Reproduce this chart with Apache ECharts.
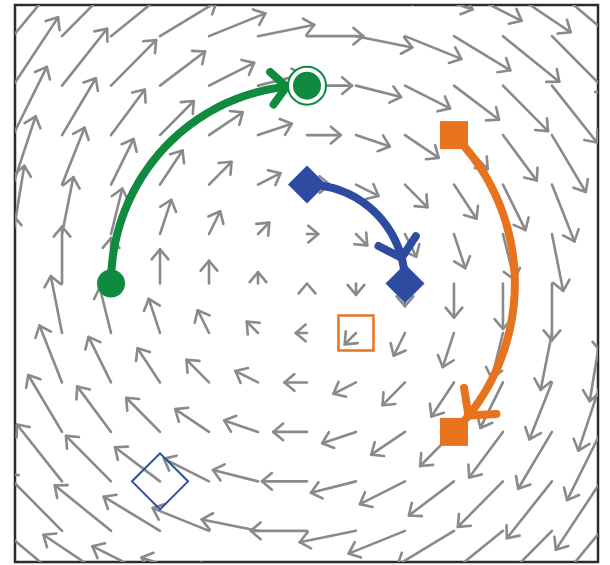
<!DOCTYPE html>
<html>
<head>
<meta charset="utf-8">
<script src="https://cdn.jsdelivr.net/npm/echarts@6/dist/echarts.min.js"></script>
<style>
  html, body { margin: 0; padding: 0; background: #ffffff; }
  #chart { width: 610px; height: 565px; }
</style>
</head>
<body>
<div id="chart"></div>
<script>
// Sample positions of the flow field (grid units)
const gridX = [-6, -5, -4, -3, -2, -1, 0, 1, 2, 3, 4, 5, 6];
const gridY = [-6, -5, -4, -3, -2, -1, 0, 1, 2, 3, 4, 5, 6];
// Horizontal component of the flow, one value per row (gridY order)
const uByRow = [-1.38, -1.15, -0.92, -0.69, -0.46, -0.23, 0, 0.23, 0.46, 0.69, 0.92, 1.15, 1.38];
// Vertical component of the flow, one value per column (gridX order)
const vByCol = [1.38, 1.15, 0.92, 0.69, 0.46, 0.23, 0, -0.23, -0.46, -0.69, -0.92, -1.15, -1.38];

// Trajectories: clockwise arcs about the origin
const trajColors = ['#108a3e', '#2d4ba0', '#e8731f'];
const trajStart = [[-4, 0], [0, 2], [3, 3]];
const trajEnd = [[0, 4], [2, 0], [3, -3]];
const trajHeadDeg = [96, 15, -39];
const trajHeadLen = [22, 26, 28];
const startSymbols = ['circle', 'diamond', 'rect'];
const startSizes = [28, 38, 28];
const endSymbols = ['circle', 'diamond', 'rect'];
const endSizes = [28, 39, 28];

// Hollow reference markers
const openSquarePts = [[1, -1]];
const openDiamondPts = [[-3, -4]];

const ARROW_GRAY = '#8a8a8a';

const fieldData = [];
gridY.forEach((gy, j) => {
  gridX.forEach((gx, i) => {
    fieldData.push([gx, gy, uByRow[j], vByCol[i]]);
  });
});

function chevron(tip, ux, uy, len, halfAngle) {
  const bx = -ux, by = -uy;
  const c = Math.cos(halfAngle), s = Math.sin(halfAngle);
  const w1 = [tip[0] + len * (bx * c - by * s), tip[1] + len * (bx * s + by * c)];
  const w2 = [tip[0] + len * (bx * c + by * s), tip[1] + len * (-bx * s + by * c)];
  return [w1, tip, w2];
}

function renderFieldArrow(params, api) {
  const x = api.value(0), y = api.value(1), u = api.value(2), v = api.value(3);
  const p0 = api.coord([x, y]);
  const p1 = api.coord([x + u, y + v]);
  const dx = p1[0] - p0[0], dy = p1[1] - p0[1];
  const len = Math.hypot(dx, dy);
  let ux = 0, uy = -1;
  if (len > 1e-6) { ux = dx / len; uy = dy / len; }
  const style = { stroke: ARROW_GRAY, lineWidth: 2.6, fill: null, lineCap: 'round', lineJoin: 'round' };
  const children = [];
  if (len > 0.5) {
    children.push({ type: 'line', shape: { x1: p0[0], y1: p0[1], x2: p1[0], y2: p1[1] }, style: style });
  }
  children.push({ type: 'polyline', shape: { points: chevron(p1, ux, uy, 13, 40 * Math.PI / 180) }, style: style });
  return { type: 'group', children: children };
}

function renderTrajectory(params, api) {
  const idx = api.value(0);
  const s = trajStart[idx], e = trajEnd[idx];
  const r = Math.hypot(s[0], s[1]);
  const a0 = Math.atan2(s[1], s[0]);
  let a1 = Math.atan2(e[1], e[0]);
  if (a1 > a0) a1 -= 2 * Math.PI;
  const pts = [];
  const n = 60;
  for (let k = 0; k <= n; k++) {
    const a = a0 + (a1 - a0) * k / n;
    pts.push(api.coord([r * Math.cos(a), r * Math.sin(a)]));
  }
  const color = trajColors[idx];
  const ha = trajHeadDeg[idx] * Math.PI / 180;
  const tip = api.coord([r * Math.cos(ha), r * Math.sin(ha)]);
  const ahead = api.coord([r * Math.cos(ha) + 0.05 * Math.sin(ha), r * Math.sin(ha) - 0.05 * Math.cos(ha)]);
  const ddx = ahead[0] - tip[0], ddy = ahead[1] - tip[1];
  const dl = Math.hypot(ddx, ddy);
  const head = chevron(tip, ddx / dl, ddy / dl, trajHeadLen[idx], 48 * Math.PI / 180);
  const lineStyle = { stroke: color, lineWidth: 8, fill: null, lineCap: 'round', lineJoin: 'round' };
  return {
    type: 'group',
    children: [
      { type: 'polyline', shape: { points: pts }, style: lineStyle },
      { type: 'polyline', shape: { points: head }, style: lineStyle }
    ]
  };
}

const chart = echarts.init(document.getElementById('chart'), null, { renderer: 'canvas' });

const markerSeries = [];
trajStart.forEach((p, i) => {
  markerSeries.push({
    type: 'scatter', z: 5, silent: true,
    symbol: startSymbols[i], symbolSize: startSizes[i],
    itemStyle: { color: trajColors[i], opacity: 1 },
    data: [p]
  });
});
// ring around the green end point
markerSeries.push({
  type: 'scatter', z: 5, silent: true,
  symbol: 'circle', symbolSize: 38,
  itemStyle: { color: '#ffffff', borderColor: trajColors[0], borderWidth: 2, opacity: 1 },
  data: [trajEnd[0]]
});
trajEnd.forEach((p, i) => {
  markerSeries.push({
    type: 'scatter', z: 6, silent: true,
    symbol: endSymbols[i], symbolSize: endSizes[i],
    itemStyle: { color: trajColors[i], opacity: 1 },
    data: [p]
  });
});
markerSeries.push({
  type: 'scatter', z: 6, silent: true,
  symbol: 'rect', symbolSize: 35,
  itemStyle: { color: 'rgba(0,0,0,0)', borderColor: '#e8731f', borderWidth: 2.5, opacity: 1 },
  data: openSquarePts
});
markerSeries.push({
  type: 'scatter', z: 6, silent: true,
  symbol: 'diamond', symbolSize: 56,
  itemStyle: { color: 'rgba(0,0,0,0)', borderColor: '#2d4ba0', borderWidth: 2, opacity: 1 },
  data: openDiamondPts
});

chart.setOption({
  animation: false,
  backgroundColor: '#ffffff',
  grid: {
    left: 15, right: 12, top: 5, bottom: 3,
    show: true, borderColor: '#2b2b2b', borderWidth: 2.5, backgroundColor: '#ffffff'
  },
  xAxis: { type: 'value', min: -5.96, max: 5.94, show: false },
  yAxis: { type: 'value', min: -5.63, max: 5.63, show: false },
  series: [
    {
      type: 'custom', z: 1, silent: true, clip: true,
      renderItem: renderFieldArrow,
      encode: { x: 0, y: 1 },
      data: fieldData
    },
    {
      type: 'custom', z: 3, silent: true, clip: true,
      renderItem: renderTrajectory,
      data: [[0], [1], [2]]
    }
  ].concat(markerSeries)
});
</script>
</body>
</html>
